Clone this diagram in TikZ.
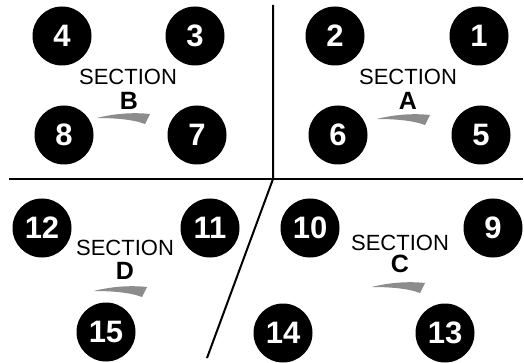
\documentclass[tikz,border=0pt]{standalone}
\usepackage{fontspec}
\setmainfont{Liberation Sans}
\usepackage{tikz}

\tikzset{
    seat/.style={circle, fill=black, minimum size=59pt, inner sep=0pt, text=white,
        font=\fontsize{31}{31}\selectfont\bfseries},
    sectname/.style={inner sep=0pt, font=\fontsize{22}{22}\selectfont},
    sectletter/.style={inner sep=0pt, font=\fontsize{25}{25}\selectfont\bfseries},
    swoosh/.pic={\fill[black!45] (0,0) .. controls (15,-4) and (35,-6) .. (53,-4) -- (48,6)
        .. controls (35,1) and (15,0) .. (0,0) -- cycle;}
}

\begin{document}
\begin{tikzpicture}[x=1pt, y=-1pt]
    \useasboundingbox (0,0) rectangle (524,363);
    % dividing lines
    \draw[line width=2pt] (9,179) -- (523,179);
    \draw[line width=2pt] (273,5) -- (273,179) -- (207,358);
    % section B
    \node[seat] (s4) at (62,36) {4};
    \node[seat] (s3) at (195,36) {3};
    \node[seat] (s8) at (64,135) {8};
    \node[seat] (s7) at (197,135) {7};
    \node[sectname] (secB) at (128,77) {SECTION};
    \node[sectletter] (letB) at (129,101) {B};
    \pic at (97,118) {swoosh};
    % section A
    \node[seat] (s2) at (335,36) {2};
    \node[seat] (s1) at (479,36) {1};
    \node[seat] (s6) at (338,135) {6};
    \node[seat] (s5) at (481,135) {5};
    \node[sectname] (secA) at (408,77) {SECTION};
    \node[sectletter] (letA) at (408,101) {A};
    \pic at (377,119) {swoosh};
    % section D
    \node[seat] (s12) at (42,228) {12};
    \node[seat] (s11) at (210,228) {11};
    \node[seat] (s15) at (106,332) {15};
    \node[sectname] (secD) at (125,248) {SECTION};
    \node[sectletter] (letD) at (125,271) {D};
    \pic at (94,291) {swoosh};
    % section C
    \node[seat] (s10) at (310,228) {10};
    \node[seat] (s9) at (493,228) {9};
    \node[seat] (s14) at (283,333) {14};
    \node[seat] (s13) at (445,333) {13};
    \node[sectname] (secC) at (400,243) {SECTION};
    \node[sectletter] (letC) at (400,264) {C};
    \pic at (372,287) {swoosh};
\end{tikzpicture}
\end{document}
